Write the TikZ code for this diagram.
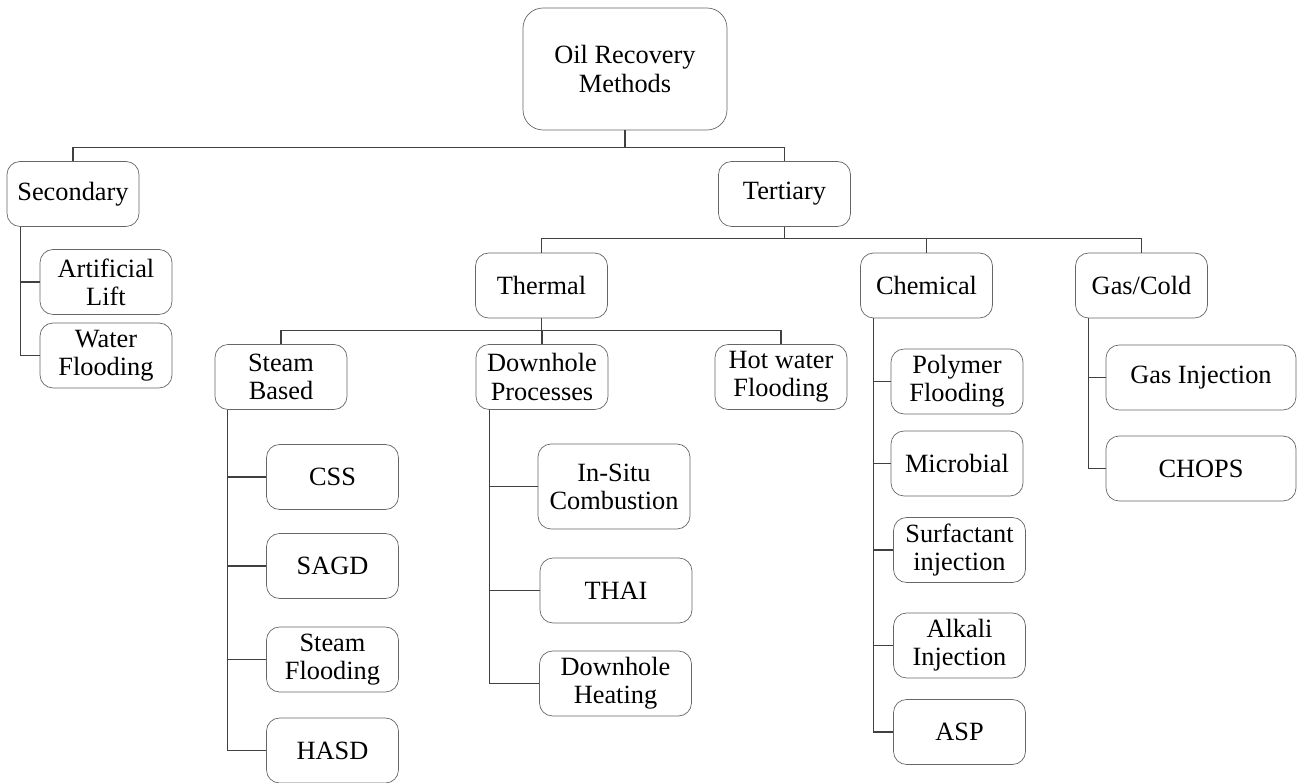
\documentclass[tikz,border=0pt]{standalone}
\usepackage{fontspec}
\setmainfont{Liberation Serif}

\tikzstyle{myBox} = [draw=black!60, rectangle, rounded corners=0.26cm,
    align=center, minimum width=2.64cm, minimum height=1.3cm,
    inner sep=2pt, font=\fontsize{15}{16}\selectfont]
\tikzstyle{myRoot} = [myBox, rounded corners=0.4cm,
    minimum width=4.08cm, minimum height=2.44cm]
\tikzstyle{myWide} = [myBox, minimum width=3.04cm]
\tikzstyle{myLine} = [draw=black!75, line width=0.6pt]

\begin{document}
\begin{tikzpicture}[x=0.02cm, y=-0.02cm]
\useasboundingbox (0,0) rectangle (1298,783);

\node[myRoot] (Root) at (625,69) {Oil Recovery\\Methods};
\node[myBox] (Secondary) at (73,194) {Secondary};
  \node[myBox] (ArtLift) at (106,282) {Artificial\\Lift};
  \node[myBox] (WaterFlood) at (106,355.5) {Water\\Flooding};
\node[myBox] (Tertiary) at (784.5,194) {Tertiary};
  \node[myBox] (Thermal) at (541.5,285.5) {Thermal};
    \node[myBox] (SteamBased) at (281,377) {Steam\\Based};
      \node[myBox] (CSS) at (332.5,477) {CSS};
      \node[myBox] (SAGD) at (332.5,566) {SAGD};
      \node[myBox] (SteamFlood) at (332.5,659.5) {Steam\\Flooding};
      \node[myBox] (HASD) at (332.5,750.5) {HASD};
    \node[myBox] (Downhole) at (542,377) {Downhole\\Processes};
      \node[myWide, minimum height=1.7cm] (InSitu) at (614,486.5) {In-Situ\\Combustion};
      \node[myWide] (THAI) at (616,590.5) {THAI};
      \node[myWide] (DhHeating) at (615.5,683.5) {Downhole\\Heating};
    \node[myBox] (HotWater) at (781,377) {Hot water\\Flooding};
  \node[myBox] (Chemical) at (926.5,285.5) {Chemical};
      \node[myBox] (Polymer) at (957,381.5) {Polymer\\Flooding};
      \node[myBox] (Microbial) at (957,463.5) {Microbial};
      \node[myBox] (Surfactant) at (959.5,550) {Surfactant\\injection};
      \node[myBox] (Alkali) at (959.5,645.5) {Alkali\\Injection};
      \node[myBox] (ASP) at (959.5,732) {ASP};
  \node[myBox] (GasCold) at (1141.5,285.5) {Gas/Cold};
      \node[myBox, minimum width=3.8cm] (GasInj) at (1201,377.5) {Gas Injection};
      \node[myBox, minimum width=3.8cm] (CHOPS) at (1201,468.5) {CHOPS};

% first and second level
\draw[myLine] (Root.south) -- ++(0,17) -| (Secondary.north);
\draw[myLine] (Root.south) -- ++(0,17) -| (Tertiary.north);
\draw[myLine] (Tertiary.south) -- ++(0,12) -| (Thermal.north);
\draw[myLine] (Tertiary.south) -- ++(0,12) -| (Chemical.north);
\draw[myLine] (Tertiary.south) -- ++(0,12) -| (GasCold.north);
\draw[myLine] (Thermal.south) -- ++(0,12) -| (SteamBased.north);
\draw[myLine] (Thermal.south) -- ++(0,12) -| (Downhole.north);
\draw[myLine] (Thermal.south) -- ++(0,12) -| (HotWater.north);

% side branches
\draw[myLine] (Secondary.south west) ++(14,0) |- (ArtLift.west);
\draw[myLine] (Secondary.south west) ++(14,0) |- (WaterFlood.west);
\draw[myLine] (SteamBased.south west) ++(13,0) |- (CSS.west);
\draw[myLine] (SteamBased.south west) ++(13,0) |- (SAGD.west);
\draw[myLine] (SteamBased.south west) ++(13,0) |- (SteamFlood.west);
\draw[myLine] (SteamBased.south west) ++(13,0) |- (HASD.west);
\draw[myLine] (Downhole.south west) ++(14,0) |- (InSitu.west);
\draw[myLine] (Downhole.south west) ++(14,0) |- (THAI.west);
\draw[myLine] (Downhole.south west) ++(14,0) |- (DhHeating.west);
\draw[myLine] (Chemical.south west) ++(13,0) |- (Polymer.west);
\draw[myLine] (Chemical.south west) ++(13,0) |- (Microbial.west);
\draw[myLine] (Chemical.south west) ++(13,0) |- (Surfactant.west);
\draw[myLine] (Chemical.south west) ++(13,0) |- (Alkali.west);
\draw[myLine] (Chemical.south west) ++(13,0) |- (ASP.west);
\draw[myLine] (GasCold.south west) ++(13,0) |- (GasInj.west);
\draw[myLine] (GasCold.south west) ++(13,0) |- (CHOPS.west);
\end{tikzpicture}
\end{document}
